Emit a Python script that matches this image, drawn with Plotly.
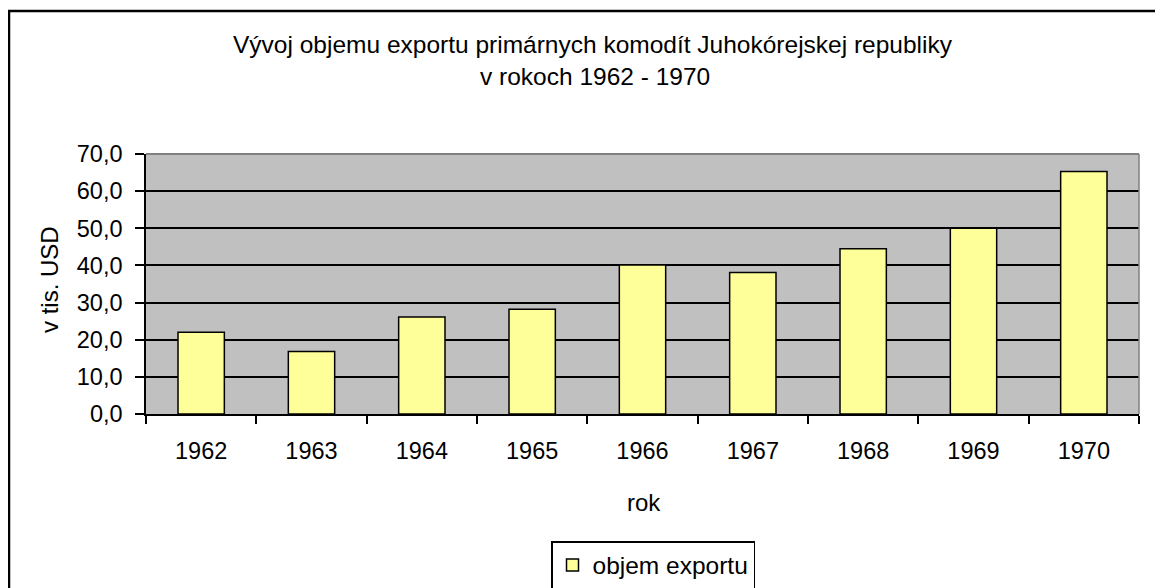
import plotly.graph_objects as go

# data
roky = ["1962", "1963", "1964", "1965", "1966", "1967", "1968", "1969", "1970"]
objem_exportu = [22.0, 16.8, 26.1, 28.2, 40.1, 38.1, 44.5, 50.0, 65.3]
y_ticks = [0, 10, 20, 30, 40, 50, 60, 70]

# the page body has an 8px margin, so the figure is drawn 8px smaller
OFF = 8
W, H = 1163, 588
L, R, T, B = 146, 1139, 154, 414   # plot area in page pixels
pw, ph = R - L, B - T

def px_x(p):
    return (p - L) / pw

def px_y(p):
    return (B - p) / ph

FONT = "Liberation Sans, Arial, sans-serif"

fig = go.Figure()
fig.add_trace(go.Bar(
    x=roky, y=objem_exportu, name="objem exportu",
    marker=dict(color="#FFFF99", line=dict(color="black", width=1.5)),
))

fig.update_layout(
    width=W - OFF, height=H - OFF,
    margin=dict(l=L - OFF, r=W - R, t=T - OFF, b=H - B, pad=0, autoexpand=False),
    paper_bgcolor="white", plot_bgcolor="#C0C0C0",
    font=dict(family=FONT, size=23.5, color="black"),
    separators=", ",
    bargap=0.58,
    showlegend=True,
    legend=dict(
        x=px_x(551), y=px_y(541), xanchor="left", yanchor="top",
        bordercolor="black", borderwidth=1.5, bgcolor="white",
        font=dict(size=24.5),
    ),
)

fig.update_xaxes(
    showline=True, linecolor="black", linewidth=1.5,
    ticks="outside", tickson="boundaries", ticklen=8, tickcolor="black", tickwidth=1.5,
    showgrid=False, ticklabelstandoff=15,
)
fig.update_yaxes(
    range=[0, 70], tickvals=y_ticks, tickformat=".1f",
    showline=True, linecolor="black", linewidth=1.5,
    ticks="outside", ticklen=9, tickcolor="black", tickwidth=1.5,
    showgrid=True, gridcolor="black", gridwidth=1.5, zeroline=False,
    ticklabelstandoff=8,
)

# top and right edges of the plot area are grey
fig.add_shape(type="line", xref="paper", yref="paper", x0=0, x1=1, y0=1, y1=1,
              line=dict(color="#808080", width=2))
fig.add_shape(type="line", xref="paper", yref="paper", x0=1, x1=1, y0=0, y1=1,
              line=dict(color="#808080", width=1.5))

# chart border (runs off the right and bottom edge)
fig.add_shape(type="rect", xref="paper", yref="paper",
              x0=px_x(9), x1=px_x(W + 20), y0=px_y(H + 20), y1=px_y(11),
              line=dict(color="black", width=2.5))

fig.add_annotation(text="Vývoj objemu exportu primárnych komodít Juhokórejskej republiky",
                   xref="paper", yref="paper", x=px_x(593), y=px_y(45),
                   showarrow=False, font=dict(size=24.5), xanchor="center", yanchor="middle")
fig.add_annotation(text="v rokoch 1962 - 1970",
                   xref="paper", yref="paper", x=px_x(595), y=px_y(77),
                   showarrow=False, font=dict(size=24.5), xanchor="center", yanchor="middle")
fig.add_annotation(text="v tis. USD", textangle=-90,
                   xref="paper", yref="paper", x=px_x(49), y=px_y(280),
                   showarrow=False, font=dict(size=24), xanchor="center", yanchor="middle")
fig.add_annotation(text="rok",
                   xref="paper", yref="paper", x=px_x(644), y=px_y(502),
                   showarrow=False, font=dict(size=24), xanchor="center", yanchor="middle")

fig.write_html("out.html")
